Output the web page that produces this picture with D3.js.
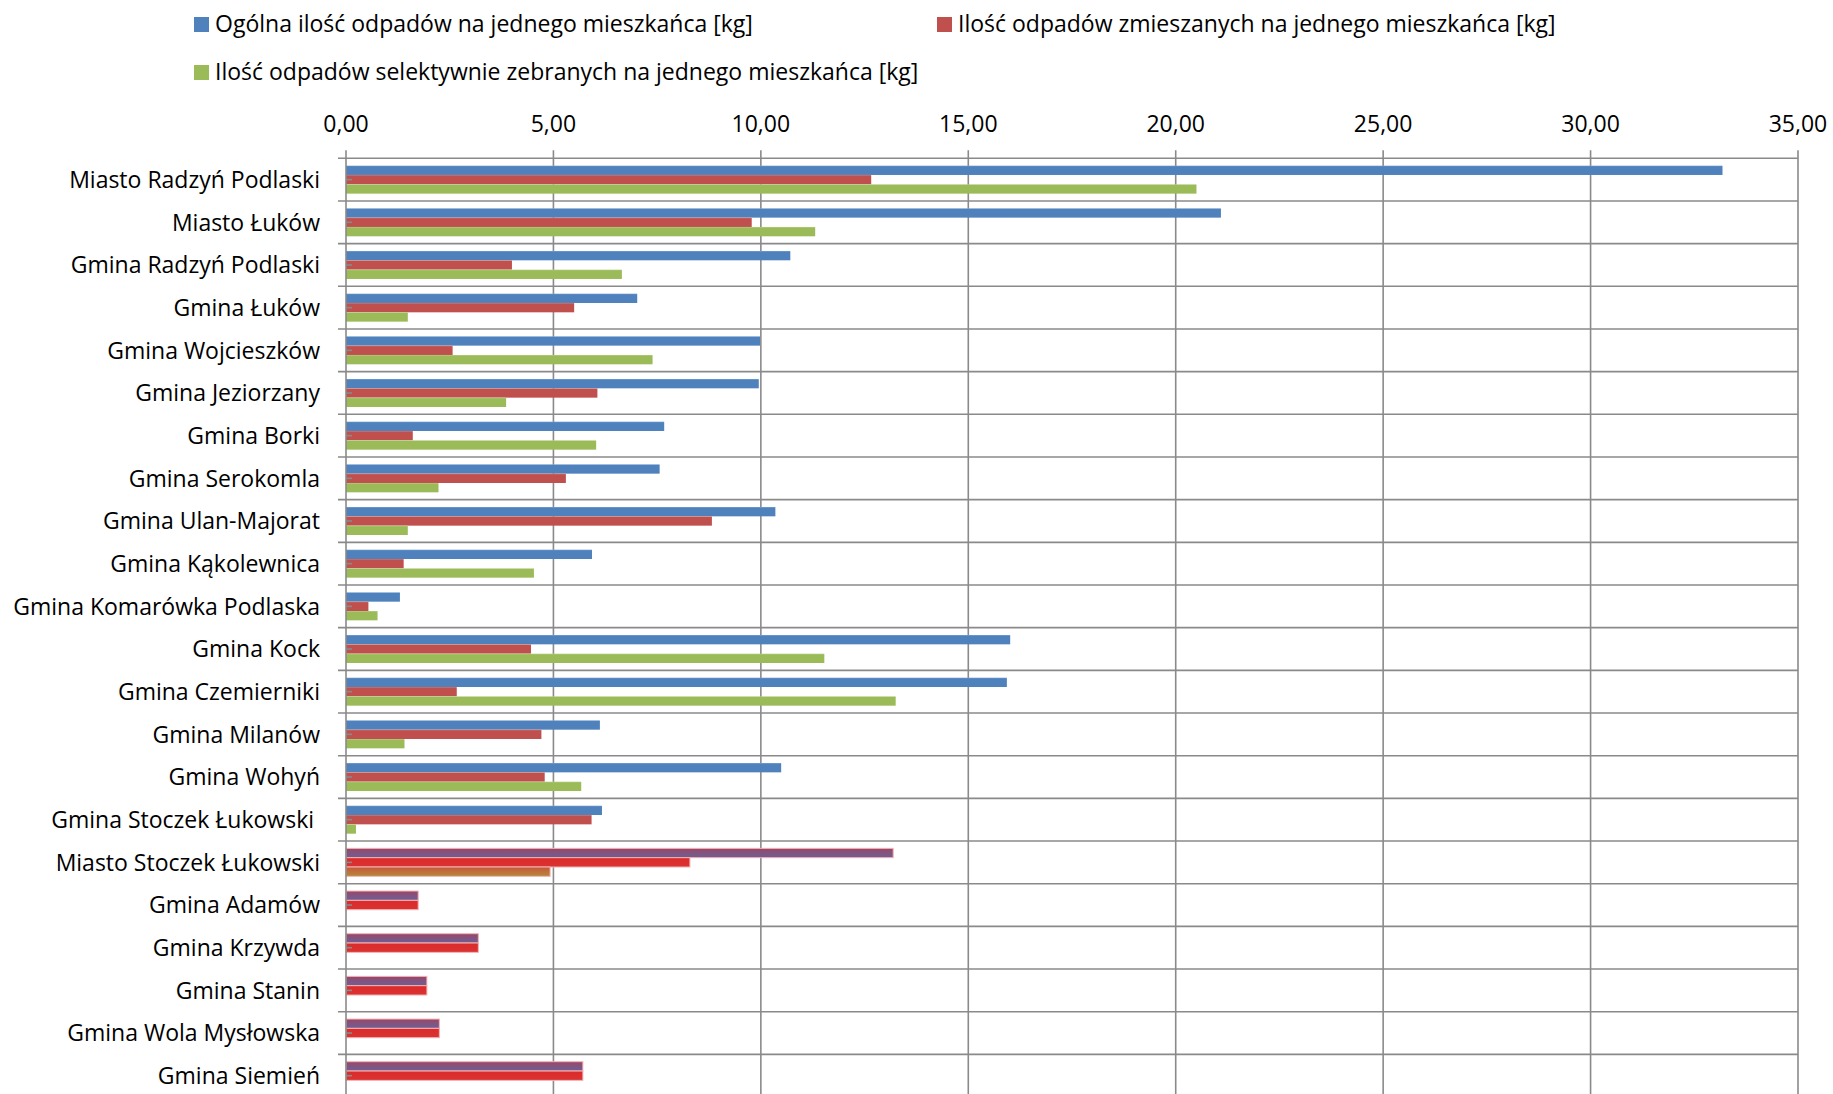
<!DOCTYPE html>
<html>
<head>
<meta charset="utf-8">
<script src="https://cdn.jsdelivr.net/npm/d3@7"></script>
<style>
  html, body { margin: 0; padding: 0; background: #fff; overflow: hidden; }
  svg { display: block; }
  text { font-family: "Open Sans", "DejaVu Sans", sans-serif; fill: #000; }
</style>
</head>
<body>
<svg id="chart" width="1833" height="1094"></svg>
<script>
// ---- data ----
const categories = [
  "Miasto Radzyń Podlaski", "Miasto Łuków", "Gmina Radzyń Podlaski", "Gmina Łuków",
  "Gmina Wojcieszków", "Gmina Jeziorzany", "Gmina Borki", "Gmina Serokomla",
  "Gmina Ulan-Majorat", "Gmina Kąkolewnica", "Gmina Komarówka Podlaska", "Gmina Kock",
  "Gmina Czemierniki", "Gmina Milanów", "Gmina Wohyń", "Gmina Stoczek Łukowski ",
  "Miasto Stoczek Łukowski", "Gmina Adamów", "Gmina Krzywda", "Gmina Stanin",
  "Gmina Wola Mysłowska", "Gmina Siemień"
];
const totalValues = [
  33.18, 21.09, 10.71, 7.02, 9.98, 9.95, 7.67, 7.56, 10.35, 5.93, 1.30,
  16.01, 15.93, 6.12, 10.49, 6.17, 13.19, 1.74, 3.19, 1.95, 2.25, 5.71
];
const mixedValues = [
  12.66, 9.78, 4.00, 5.50, 2.57, 6.06, 1.61, 5.30, 8.82, 1.39, 0.54,
  4.46, 2.67, 4.71, 4.79, 5.92, 8.29, 1.74, 3.19, 1.95, 2.25, 5.71
];
const selectiveValues = [
  20.50, 11.31, 6.65, 1.49, 7.39, 3.86, 6.03, 2.23, 1.49, 4.53, 0.76,
  11.53, 13.25, 1.41, 5.67, 0.24, 4.92, null, null, null, null, null
];
const seriesNames = [
  "Ogólna ilość odpadów na jednego mieszkańca [kg]",
  "Ilość odpadów zmieszanych na jednego mieszkańca [kg]",
  "Ilość odpadów selektywnie zebranych na jednego mieszkańca [kg]"
];
const xTickValues = [0, 5, 10, 15, 20, 25, 30, 35];
// categories drawn with the alternate (gradient) formatting in the original
const altFormatFrom = "Miasto Stoczek Łukowski";

// ---- layout ----
const svg = d3.select("#chart");
const plotLeft = 346, plotRight = 1798, plotTop = 158.3, rowH = 42.67;
const x = d3.scaleLinear().domain([0, 35]).range([plotLeft, plotRight]);
const y = d3.scaleBand().domain(categories).range([plotTop, plotTop + rowH * categories.length]).padding(0);
const sub = d3.scaleBand().domain([0, 1, 2]).range([0, y.bandwidth()]).paddingInner(0).paddingOuter(0.786);
const fmt = d3.formatLocale({ decimal: ",", thousands: " ", grouping: [3], currency: ["", ""] }).format(".2f");
const altIndex = categories.indexOf(altFormatFrom);

const series = [totalValues, mixedValues, selectiveValues];
const baseColors = ["#4F81BD", "#C0504D", "#9BBB59"];
const hiColors = ["#7ea3d3", "#d27d7b", "#b8d08a"];

// gradients
const defs = svg.append("defs");
function vgrad(id, stops) {
  const g = defs.append("linearGradient").attr("id", id).attr("x1", 0).attr("y1", 0).attr("x2", 0).attr("y2", 1);
  stops.forEach(s => g.append("stop").attr("offset", s[0]).attr("stop-color", s[1]));
}
baseColors.forEach((c, i) => vgrad("n" + i, [[0, hiColors[i]], [0.12, c], [1, c]]));
vgrad("a0", [[0, "#9a4566"], [0.35, "#8a5078"], [1, "#6b5f98"]]);
vgrad("a1", [[0, "#dd2a2a"], [1, "#d83333"]]);
vgrad("a2", [[0, "#c4573a"], [0.5, "#c0703a"], [1, "#b3893d"]]);

const gridColor = "#8a8a8a";
const plotBottom = plotTop + rowH * categories.length;

// vertical gridlines (incl. top outside ticks)
svg.append("g").selectAll("line").data(xTickValues.slice(1)).join("line")
  .attr("x1", d => x(d)).attr("x2", d => x(d))
  .attr("y1", plotTop - 8).attr("y2", plotBottom)
  .attr("stroke", gridColor).attr("stroke-width", 1.6);

// horizontal gridlines at category boundaries
const bounds = d3.range(categories.length + 1).map(k => plotTop + k * rowH);
svg.append("g").selectAll("line").data(bounds).join("line")
  .attr("x1", plotLeft - 8).attr("x2", plotRight)
  .attr("y1", d => d).attr("y2", d => d)
  .attr("stroke", gridColor).attr("stroke-width", 1.6);

// bars
const barG = svg.append("g");
series.forEach((vals, si) => {
  barG.selectAll(null).data(categories.map((c, i) => ({ c, i, v: vals[i] })).filter(d => d.v != null && d.v > 0))
    .join("rect")
    .attr("x", x(0))
    .attr("y", d => y(d.c) + sub(si))
    .attr("width", d => x(d.v) - x(0))
    .attr("height", sub.bandwidth())
    .attr("fill", d => d.i >= altIndex ? `url(#a${si})` : `url(#n${si})`)
    .attr("stroke", d => d.i >= altIndex ? "#f6b3b3" : "none")
    .attr("stroke-width", d => d.i >= altIndex ? 1 : 0);
});

// left axis line + tick at top
svg.append("line").attr("x1", x(0)).attr("x2", x(0)).attr("y1", plotTop - 8).attr("y2", plotBottom)
  .attr("stroke", gridColor).attr("stroke-width", 1.6);
// small inner marks at row centres
svg.append("g").selectAll("line").data(categories).join("line")
  .attr("x1", x(0)).attr("x2", x(0) + 6)
  .attr("y1", d => y(d) + rowH / 2).attr("y2", d => y(d) + rowH / 2)
  .attr("stroke", gridColor).attr("stroke-width", 1.6);

// top axis labels
svg.append("g").selectAll("text").data(xTickValues).join("text")
  .attr("x", d => x(d)).attr("y", 132)
  .attr("text-anchor", "middle")
  .style("font-size", "23px")
  .text(d => fmt(d));

// category labels
svg.append("g").selectAll("text").data(categories).join("text")
  .attr("x", 320).attr("y", d => y(d) + rowH / 2 + 8.3)
  .attr("text-anchor", "end")
  .style("font-size", "23px")
  .attr("xml:space", "preserve")
  .text(d => d);

// legend
const legendItems = [
  { name: seriesNames[0], color: baseColors[0], x: 194, y: 17 },
  { name: seriesNames[1], color: baseColors[1], x: 937, y: 17 },
  { name: seriesNames[2], color: baseColors[2], x: 194, y: 65 }
];
const lg = svg.append("g");
legendItems.forEach(it => {
  lg.append("rect").attr("x", it.x).attr("y", it.y).attr("width", 15).attr("height", 15).attr("fill", it.color);
  lg.append("text").attr("x", it.x + 21).attr("y", it.y + 14.5).style("font-size", "23px").text(it.name);
});
</script>
</body>
</html>
